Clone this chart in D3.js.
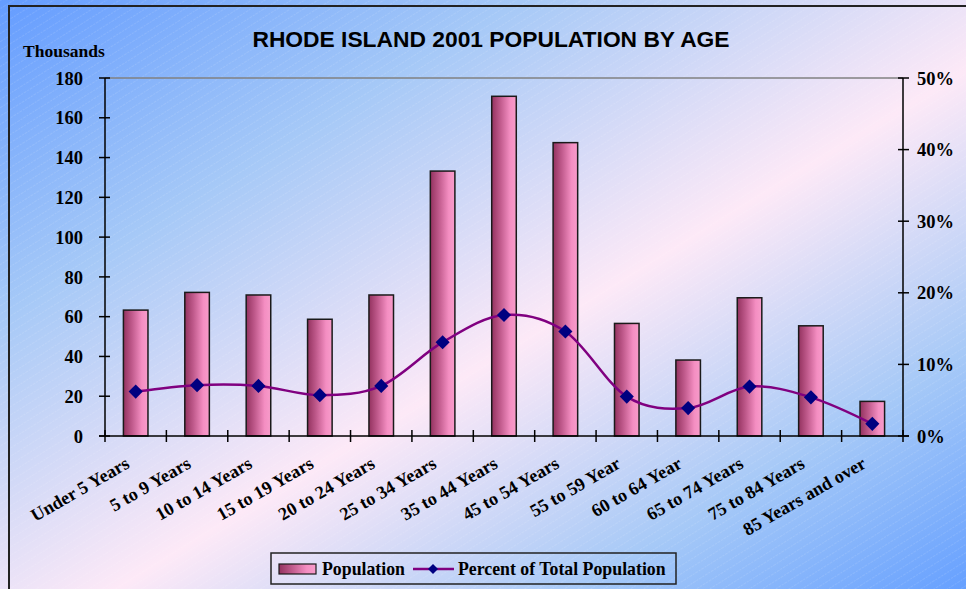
<!DOCTYPE html>
<html><head><meta charset="utf-8">
<script src="https://cdn.jsdelivr.net/npm/d3@7"></script>
<style>body{margin:0;overflow:hidden;background:#fff}svg{display:block}</style>
</head><body>
<svg id="c" width="966" height="589"></svg>
<script>
const categories = ["Under 5 Years","5 to 9 Years","10 to 14 Years","15 to 19 Years","20 to 24 Years","25 to 34 Years","35 to 44 Years","45 to 54 Years","55 to 59 Year","60 to 64 Year","65 to 74 Years","75 to 84 Years","85 Years and over"];
const population = [63.3, 72.2, 70.9, 58.7, 70.9, 133.2, 170.8, 147.5, 56.6, 38.2, 69.5, 55.4, 17.4];
const percent = [6.2, 7.1, 7.0, 5.7, 7.0, 13.1, 16.9, 14.6, 5.5, 3.9, 6.9, 5.4, 1.7];
const leftTicks = [0,20,40,60,80,100,120,140,160,180];
const rightTicks = [0,10,20,30,40,50];
const title = "RHODE ISLAND 2001 POPULATION BY AGE";
const leftTitle = "Thousands";
const legendLabels = ["Population","Percent of Total Population"];

const W = 966, H = 589;
const svg = d3.select("#c");
const defs = svg.append("defs");

const bg = defs.append("linearGradient").attr("id","bg")
  .attr("x1",0).attr("y1",0).attr("x2",1).attr("y2",1);
[[0,"#649cff"],[0.27,"#a6c9f7"],[0.56,"#fde9f7"],[0.8,"#a6c9f7"],[1,"#66a0ff"]]
  .forEach(([o,c])=>bg.append("stop").attr("offset",o).attr("stop-color",c));

const hatch = defs.append("pattern").attr("id","hatch").attr("patternUnits","userSpaceOnUse")
  .attr("width",7).attr("height",7).attr("patternTransform","rotate(-32)");
hatch.append("line").attr("x1",0).attr("y1",0).attr("x2",7).attr("y2",0)
  .attr("stroke","#fff").attr("stroke-width",1.2).attr("stroke-opacity",0.22).attr("stroke-dasharray","2,1");

const barG = defs.append("linearGradient").attr("id","barG").attr("x1",0).attr("y1",0).attr("x2",1).attr("y2",0);
[[0,"#93325f"],[0.35,"#c05a8c"],[0.75,"#f48ec2"],[1,"#f79cca"]]
  .forEach(([o,c])=>barG.append("stop").attr("offset",o).attr("stop-color",c));

svg.append("rect").attr("width",W).attr("height",H).attr("fill","url(#bg)");
svg.append("rect").attr("width",W).attr("height",H).attr("fill","url(#hatch)");
svg.append("path").attr("d",`M9,${H} L9,6 L${W},6`).attr("fill","none").attr("stroke","#222").attr("stroke-width",2);

const L = 105, R = 903, T = 78, B = 436;
const x = d3.scaleBand().domain(categories).range([L,R]).padding(0);
const y = d3.scaleLinear().domain([0,180]).range([B,T]);
const y2 = d3.scaleLinear().domain([0,50]).range([B,T]);
const bw = x.bandwidth();

const serif = "'Liberation Serif','Times New Roman',serif";

svg.append("line").attr("x1",L).attr("x2",R).attr("y1",T).attr("y2",T).attr("stroke","#808080").attr("stroke-width",1.5);

svg.append("g").selectAll("rect").data(categories).join("rect")
  .attr("x",d=>x(d)+bw*0.3).attr("width",bw*0.4)
  .attr("y",(d,i)=>y(population[i])).attr("height",(d,i)=>B-y(population[i]))
  .attr("fill","url(#barG)").attr("stroke","#1a1a1a").attr("stroke-width",1.5);

const gL = svg.append("g").attr("transform",`translate(${L},0)`);
gL.append("line").attr("y1",T).attr("y2",B).attr("stroke","#000").attr("stroke-width",1.5);
gL.selectAll(".tk").data(leftTicks).join("line").attr("x1",-6).attr("x2",5)
  .attr("y1",d=>y(d)).attr("y2",d=>y(d)).attr("stroke","#000").attr("stroke-width",1.5);
gL.selectAll(".lb").data(leftTicks).join("text").attr("x",-22).attr("y",d=>y(d)).attr("dy","0.36em")
  .attr("text-anchor","end").attr("font-family",serif).attr("font-weight","bold").attr("font-size",18.5)
  .text(d=>d3.format("d")(d));

const gR = svg.append("g").attr("transform",`translate(${R},0)`);
gR.append("line").attr("y1",T).attr("y2",B).attr("stroke","#000").attr("stroke-width",1.5);
gR.selectAll(".tk").data(rightTicks).join("line").attr("x1",-5).attr("x2",6)
  .attr("y1",d=>y2(d)).attr("y2",d=>y2(d)).attr("stroke","#000").attr("stroke-width",1.5);
gR.selectAll(".lb").data(rightTicks).join("text").attr("x",14).attr("y",d=>y2(d)).attr("dy","0.36em")
  .attr("text-anchor","start").attr("font-family",serif).attr("font-weight","bold").attr("font-size",18.5)
  .text(d=>d+"%");

const gX = svg.append("g");
gX.append("line").attr("x1",L-6).attr("x2",R+6).attr("y1",B).attr("y2",B).attr("stroke","#000").attr("stroke-width",1.5);
const bounds = categories.map(c=>x(c)).concat([R]);
gX.selectAll(".tk").data(bounds).join("line").attr("x1",d=>d).attr("x2",d=>d)
  .attr("y1",B-6).attr("y2",B+6).attr("stroke","#000").attr("stroke-width",1.5);
gX.selectAll(".lb").data(categories).join("text")
  .attr("transform",d=>`translate(${x(d)+bw/2-5},${B+31}) rotate(-30)`)
  .attr("text-anchor","end").attr("font-family",serif).attr("font-weight","bold").attr("font-size",18.2)
  .text(d=>d);

const line = d3.line().x((d,i)=>x(categories[i])+bw/2).y(d=>y2(d)).curve(d3.curveCardinal.tension(0));
svg.append("path").datum(percent).attr("d",line).attr("fill","none").attr("stroke","#800080").attr("stroke-width",2.5);
svg.append("g").selectAll("path").data(percent).join("path")
  .attr("transform",(d,i)=>`translate(${x(categories[i])+bw/2},${y2(d)}) rotate(45)`)
  .attr("d",d3.symbol().type(d3.symbolSquare).size(100)).attr("fill","#000080");

svg.append("text").attr("x",491).attr("y",47).attr("text-anchor","middle")
  .attr("font-family","'Liberation Sans',Arial,sans-serif").attr("font-weight","bold").attr("font-size",22.8)
  .text(title);
svg.append("text").attr("x",23).attr("y",57).attr("font-family",serif).attr("font-weight","bold").attr("font-size",17.5)
  .text(leftTitle);

const lg = svg.append("g");
lg.append("rect").attr("x",271).attr("y",553).attr("width",405).attr("height",31).attr("fill","none").attr("stroke","#222").attr("stroke-width",1.5);
lg.append("rect").attr("x",279).attr("y",564).attr("width",37).attr("height",10).attr("fill","url(#barG)").attr("stroke","#1a1a1a").attr("stroke-width",1.2);
lg.append("text").attr("x",322).attr("y",575).attr("font-family",serif).attr("font-weight","bold").attr("font-size",17.8).text(legendLabels[0]);
lg.append("line").attr("x1",413).attr("x2",454).attr("y1",569).attr("y2",569).attr("stroke","#800080").attr("stroke-width",2.5);
lg.append("path").attr("transform","translate(433,569) rotate(45)").attr("d",d3.symbol().type(d3.symbolSquare).size(50)).attr("fill","#000080");
lg.append("text").attr("x",458).attr("y",575).attr("font-family",serif).attr("font-weight","bold").attr("font-size",17.8).text(legendLabels[1]);
</script>
</body></html>
